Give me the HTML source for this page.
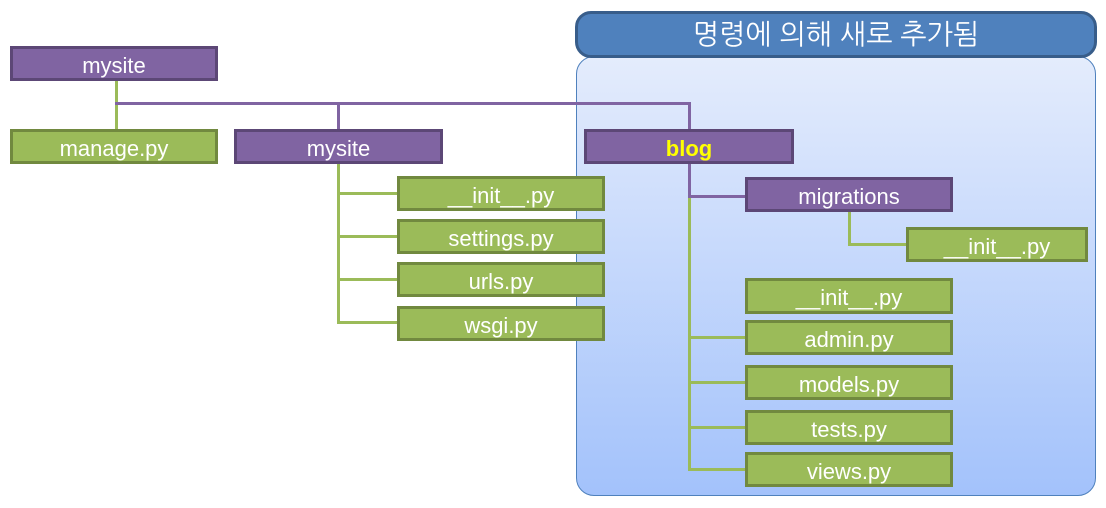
<!DOCTYPE html>
<html><head><meta charset="utf-8"><style>
body{margin:0;width:1106px;height:508px;background:#fff;position:relative;overflow:hidden;font-family:"Liberation Sans","NanumGothic",sans-serif}
.b{position:absolute;box-sizing:border-box;color:#fff;font-size:22px;text-align:center;display:flex;align-items:center;justify-content:center;padding-top:4px}
.p{background:#8064a2;border:3px solid #5c4776}
.g{background:#9bbb59;border:3px solid #71893f}
.l{position:absolute}
.lp{background:#8064a2}.lg{background:#9bbb59}
</style></head><body>
<div style="position:absolute;left:576px;top:56px;width:520px;height:440px;border:1.5px solid #4f81bd;border-radius:18px;box-sizing:border-box;background:linear-gradient(#e4ecfc,#a3c2fb)"></div>
<div class="b" style="left:575px;top:11px;width:522px;height:47px;background:#4f81bd;border:3px solid #385d8a;border-radius:16px;font-size:28px;padding-top:2px">명령에 의해 새로 추가됨</div>

<div class="l lg" style="left:115px;top:81px;width:3px;height:48px"></div>
<div class="l lp" style="left:115px;top:102px;width:576px;height:3px"></div>
<div class="l lp" style="left:337px;top:102px;width:3px;height:27px"></div>
<div class="l lp" style="left:688px;top:102px;width:3px;height:27px"></div>
<div class="l lg" style="left:337px;top:163px;width:3px;height:160px"></div>
<div class="l lg" style="left:337px;top:192px;width:60px;height:3px"></div>
<div class="l lg" style="left:337px;top:235px;width:60px;height:3px"></div>
<div class="l lg" style="left:337px;top:278px;width:60px;height:3px"></div>
<div class="l lg" style="left:337px;top:321px;width:60px;height:3px"></div>
<div class="l lp" style="left:688px;top:163px;width:3px;height:35px"></div>
<div class="l lp" style="left:688px;top:195px;width:57px;height:3px"></div>
<div class="l lg" style="left:688px;top:198px;width:3px;height:273px"></div>
<div class="l lg" style="left:688px;top:336px;width:57px;height:3px"></div>
<div class="l lg" style="left:688px;top:381px;width:57px;height:3px"></div>
<div class="l lg" style="left:688px;top:426px;width:57px;height:3px"></div>
<div class="l lg" style="left:688px;top:468px;width:57px;height:3px"></div>
<div class="l lg" style="left:848px;top:212px;width:3px;height:34px"></div>
<div class="l lg" style="left:848px;top:243px;width:58px;height:3px"></div>

<div class="b p" style="left:10px;top:46px;width:208px;height:35px">mysite</div>
<div class="b g" style="left:10px;top:129px;width:208px;height:35px">manage.py</div>
<div class="b p" style="left:234px;top:129px;width:209px;height:35px">mysite</div>
<div class="b p" style="left:584px;top:129px;width:210px;height:35px;color:#ff0;font-weight:bold">blog</div>
<div class="b g" style="left:397px;top:176px;width:208px;height:35px">__init__.py</div>
<div class="b g" style="left:397px;top:219px;width:208px;height:35px">settings.py</div>
<div class="b g" style="left:397px;top:262px;width:208px;height:35px">urls.py</div>
<div class="b g" style="left:397px;top:306px;width:208px;height:35px">wsgi.py</div>
<div class="b p" style="left:745px;top:177px;width:208px;height:35px">migrations</div>
<div class="b g" style="left:906px;top:227px;width:182px;height:35px">__init__.py</div>
<div class="b g" style="left:745px;top:278px;width:208px;height:36px">__init__.py</div>
<div class="b g" style="left:745px;top:320px;width:208px;height:35px">admin.py</div>
<div class="b g" style="left:745px;top:365px;width:208px;height:35px">models.py</div>
<div class="b g" style="left:745px;top:410px;width:208px;height:35px">tests.py</div>
<div class="b g" style="left:745px;top:452px;width:208px;height:35px">views.py</div>
</body></html>
